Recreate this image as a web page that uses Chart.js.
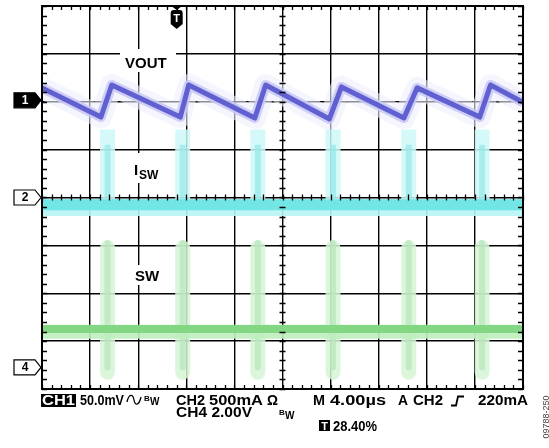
<!DOCTYPE html>
<html>
<head>
<meta charset="utf-8">
<script src="https://cdn.jsdelivr.net/npm/chart.js@4.4.1/dist/chart.umd.min.js"></script>
<style>
  html, body { margin: 0; padding: 0; background: #fff; }
  #wrap { width: 549px; height: 448px; position: relative; }
</style>
</head>
<body>
<div id="wrap"><canvas id="scope" width="549" height="448"></canvas></div>
<script>
// Time axis in µs (4 µs/div, 10 div); vertical axis in divisions (-4..4)
const xTicks = [0, 4, 8, 12, 16, 20, 24, 28, 32, 36, 40];
const yTicks = [-4, -3, -2, -1, 0, 1, 2, 3, 4];

// CH1 VOUT ripple, vertices
const ch1Time = [0, 4.9, 5.8, 11.5, 12.2, 17.7, 18.6, 23.9, 24.9, 30.1, 31.2, 36.4, 37.3, 40];
const ch1Div  = [2.29, 1.68, 2.35, 1.68, 2.35, 1.66, 2.35, 1.64, 2.31, 1.66, 2.29, 1.68, 2.35, 1.99];

// switching instants (µs)
const pulseTime = [5.45, 11.7, 17.95, 24.2, 30.5, 36.6];

// CH2 ISW levels (div)
const iswBase = -0.15;
const iswPeak = 1.42;
const iswCorePeak = 1.1;

// CH4 SW levels (div)
const swLevel = -2.745;
const swTop = -1.05;
const swBottom = -3.65;

// channel ground markers (div) and trigger position (µs)
const ch1Zero = 2.03;
const ch2Zero = 0;
const ch4Zero = -3.55;
const triggerTime = 11.2;

function flat(level) {
  return [{ x: 0, y: level }, { x: 40, y: level }];
}
function spikes(from, to) {
  const pts = [];
  pulseTime.forEach(t => {
    pts.push({ x: t, y: from }, { x: t, y: to }, { x: t, y: null });
  });
  return pts;
}
const ch1Points = ch1Time.map((t, i) => ({ x: t, y: ch1Div[i] }));

function trace(data, color, width) {
  return {
    data: data,
    showLine: true,
    borderColor: color,
    borderWidth: width,
    pointRadius: 0,
    tension: 0,
    spanGaps: false,
    borderCapStyle: 'butt',
    borderJoinStyle: 'round'
  };
}

const FONT = '"Liberation Sans", Arial, sans-serif';

// draw text stretched to span [x0, x1]
function spanText(ctx, text, x0, x1, baseline) {
  const w = ctx.measureText(text).width;
  ctx.save();
  ctx.translate(x0, baseline);
  ctx.scale((x1 - x0) / w, 1);
  ctx.fillText(text, 0, 0);
  ctx.restore();
}

const overlay = {
  id: 'overlay',
  afterDraw(chart) {
    const { ctx, chartArea: a, scales: { x, y } } = chart;
    ctx.save();

    // frame
    ctx.strokeStyle = '#000';
    ctx.lineWidth = 2;
    ctx.strokeRect(a.left, a.top, a.right - a.left, a.bottom - a.top);

    // minor ticks, 5 per division, on frame and centre lines
    ctx.lineWidth = 1.3;
    ctx.beginPath();
    for (let v = 0; v <= 40.01; v += 0.8) {
      const px = Math.round(x.getPixelForValue(v)) + 0.5;
      ctx.moveTo(px, a.top); ctx.lineTo(px, a.top + 4);
      ctx.moveTo(px, a.bottom); ctx.lineTo(px, a.bottom - 4);
      const cy = y.getPixelForValue(0);
      ctx.moveTo(px, cy - 3); ctx.lineTo(px, cy + 3);
    }
    for (let v = -4; v <= 4.01; v += 0.2) {
      const py = Math.round(y.getPixelForValue(v)) + 0.5;
      ctx.moveTo(a.left, py); ctx.lineTo(a.left + 5, py);
      ctx.moveTo(a.right, py); ctx.lineTo(a.right - 5, py);
      const cx = x.getPixelForValue(20);
      ctx.moveTo(cx - 3, py); ctx.lineTo(cx + 3, py);
    }
    ctx.stroke();

    // trace labels
    ctx.fillStyle = '#fff';
    ctx.fillRect(120, 49, 56, 23);
    ctx.fillRect(128, 153, 38, 30);
    ctx.fillRect(130, 265, 35, 20);
    ctx.fillStyle = '#000';
    ctx.textBaseline = 'alphabetic';
    ctx.textAlign = 'left';
    ctx.font = 'bold 15px ' + FONT;
    ctx.fillText('VOUT', 125, 68);
    ctx.fillText('I', 134, 175);
    ctx.fillText('SW', 135, 281);
    ctx.font = 'bold 12px ' + FONT;
    ctx.fillText('SW', 139, 179);

    // channel markers
    function marker(val, label, filled) {
      const cy = y.getPixelForValue(val);
      ctx.beginPath();
      ctx.moveTo(14, cy - 7.5);
      ctx.lineTo(35, cy - 7.5);
      ctx.lineTo(41, cy);
      ctx.lineTo(35, cy + 7.5);
      ctx.lineTo(14, cy + 7.5);
      ctx.closePath();
      ctx.fillStyle = filled ? '#000' : '#fff';
      ctx.fill();
      ctx.lineWidth = 1.2;
      ctx.strokeStyle = '#000';
      ctx.stroke();
      ctx.fillStyle = filled ? '#fff' : '#000';
      ctx.font = 'bold 12px ' + FONT;
      ctx.textAlign = 'center';
      ctx.textBaseline = 'middle';
      ctx.fillText(label, 25, cy + 0.5);
    }
    marker(ch1Zero, '1', true);
    marker(ch2Zero, '2', false);
    marker(ch4Zero, '4', false);

    // trigger marker
    const tx = x.getPixelForValue(triggerTime);
    ctx.fillStyle = '#000';
    ctx.beginPath();
    ctx.moveTo(tx - 5.5, a.top); ctx.lineTo(tx + 5.5, a.top); ctx.lineTo(tx, a.top + 4);
    ctx.closePath(); ctx.fill();
    ctx.beginPath();
    ctx.moveTo(tx - 6, 13);
    ctx.quadraticCurveTo(tx - 6, 10, tx - 3, 10);
    ctx.lineTo(tx + 3, 10);
    ctx.quadraticCurveTo(tx + 6, 10, tx + 6, 13);
    ctx.lineTo(tx + 6, 24);
    ctx.lineTo(tx, 29);
    ctx.lineTo(tx - 6, 24);
    ctx.closePath(); ctx.fill();
    ctx.fillStyle = '#fff';
    ctx.font = 'bold 11px ' + FONT;
    ctx.textAlign = 'center';
    ctx.textBaseline = 'middle';
    ctx.fillText('T', tx, 19);

    // readouts
    ctx.textAlign = 'left';
    ctx.textBaseline = 'alphabetic';
    ctx.fillStyle = '#000';
    ctx.fillRect(41, 394, 35, 13);
    ctx.fillRect(319, 420, 11, 11);
    ctx.fillStyle = '#fff';
    ctx.font = 'bold 14px ' + FONT;
    spanText(ctx, 'CH1', 42, 75, 405);
    ctx.font = 'bold 11px ' + FONT;
    ctx.textAlign = 'center';
    ctx.fillText('T', 324.5, 430);
    ctx.textAlign = 'left';
    ctx.fillStyle = '#000';
    ctx.font = 'bold 14px ' + FONT;
    spanText(ctx, '50.0mV', 80, 124, 405);
    spanText(ctx, 'CH2', 176, 205, 405);
    spanText(ctx, '500mA', 209, 263, 405);
    spanText(ctx, 'Ω', 267, 278, 405);
    spanText(ctx, 'M', 313, 325, 405);
    spanText(ctx, '4.00µs', 330, 386, 405);
    spanText(ctx, 'A', 398, 408, 405);
    spanText(ctx, 'CH2', 413, 443, 405);
    spanText(ctx, '220mA', 478, 528, 405);
    spanText(ctx, 'CH4 2.00V', 176, 252, 417);
    spanText(ctx, '28.40%', 333, 377, 431);
    ctx.font = 'bold 8px ' + FONT;
    ctx.fillText('B', 144, 401);
    ctx.fillText('B', 279, 415);
    ctx.font = 'bold 10px ' + FONT;
    ctx.fillText('W', 150, 405);
    ctx.fillText('W', 285, 419);

    // coupling and slope glyphs
    ctx.lineWidth = 1.3;
    ctx.strokeStyle = '#000';
    ctx.beginPath();
    ctx.moveTo(127, 402);
    ctx.bezierCurveTo(129, 393, 133, 394, 134, 400);
    ctx.bezierCurveTo(135, 406, 139, 406, 141, 397);
    ctx.stroke();
    ctx.lineWidth = 1.8;
    ctx.beginPath();
    ctx.moveTo(451, 405.5); ctx.lineTo(456, 405.5); ctx.lineTo(458, 396.5); ctx.lineTo(464, 396.5);
    ctx.stroke();

    // figure code
    ctx.translate(547, 417);
    ctx.rotate(-Math.PI / 2);
    ctx.fillStyle = '#444';
    ctx.font = '9px ' + FONT;
    ctx.textAlign = 'center';
    ctx.textBaseline = 'middle';
    ctx.fillText('09788-250', 0, 0);

    ctx.restore();
  }
};

const gridOpts = { color: '#000', lineWidth: 1.4, drawTicks: false };

// listed bottom layer first; order makes later entries draw on top
const datasets = [
  // CH4 SW
  trace(spikes(swTop, swBottom), 'rgba(214,244,214,0.85)', 15),
  trace(spikes(swTop + 0.1, swBottom + 0.1), 'rgba(184,230,188,0.7)', 6),
  trace(flat(swLevel - 0.06), 'rgba(190,238,190,0.9)', 14),
  trace(flat(swLevel), 'rgba(124,212,124,0.9)', 8),
  // CH2 ISW
  trace(spikes(iswBase, iswPeak), 'rgba(206,248,248,0.85)', 15),
  trace(spikes(iswBase, iswCorePeak), 'rgba(150,232,232,0.7)', 6),
  trace(flat(iswBase - 0.06), 'rgba(184,244,244,0.9)', 17),
  trace(flat(iswBase), 'rgba(110,228,228,0.95)', 11),
  // CH1 VOUT
  trace(ch1Points, 'rgba(238,238,252,0.6)', 22),
  trace(ch1Points, 'rgba(200,200,244,0.85)', 10),
  trace(ch1Points, 'rgba(84,84,204,0.9)', 5)
];
datasets.forEach((ds, i) => { ds.order = datasets.length - i; });

new Chart(document.getElementById('scope').getContext('2d'), {
  type: 'scatter',
  data: { datasets: datasets },
  options: {
    responsive: false,
    devicePixelRatio: 1,
    animation: false,
    events: [],
    layout: { padding: { left: 42, right: 26, top: 6, bottom: 59 } },
    plugins: { legend: { display: false }, tooltip: { enabled: false } },
    scales: {
      x: {
        type: 'linear', min: 0, max: 40, z: 1,
        afterBuildTicks: s => { s.ticks = xTicks.map(v => ({ value: v })); },
        ticks: { display: false },
        grid: gridOpts,
        border: { display: false }
      },
      y: {
        type: 'linear', min: -4, max: 4, z: 1,
        afterBuildTicks: s => { s.ticks = yTicks.map(v => ({ value: v })); },
        ticks: { display: false },
        grid: gridOpts,
        border: { display: false }
      }
    }
  },
  plugins: [overlay]
});
</script>
</body>
</html>
